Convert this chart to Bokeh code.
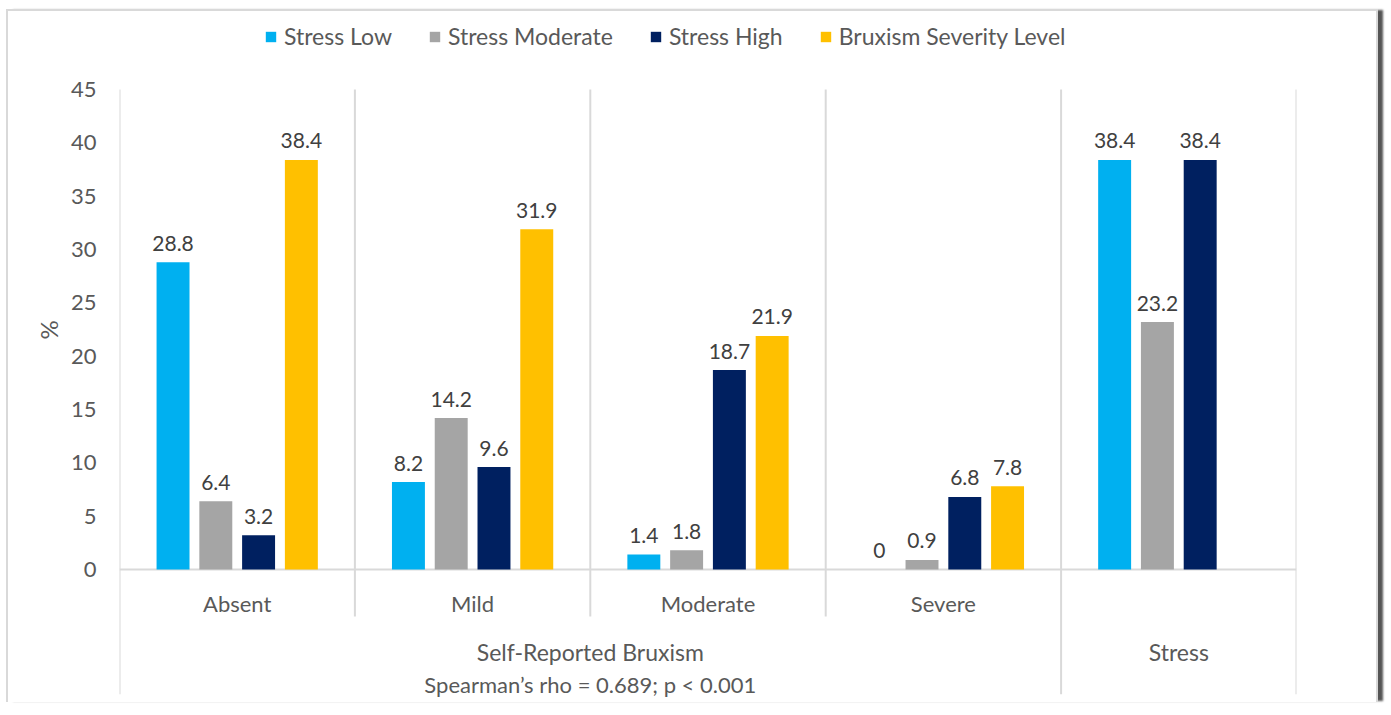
import math
from bokeh.plotting import figure
from bokeh.models import ColumnDataSource, Legend, LegendItem, Title, FixedTicker, Range1d
from bokeh.core.properties import value
from bokeh.embed import file_html
from bokeh.resources import INLINE

# ---- data ----
categories = ["Absent", "Mild", "Moderate", "Severe", ""]
category_group = [0, 0, 0, 0, 1]
groups = ["Self-Reported Bruxism", "Stress"]
group_notes = ["Spearman\u2019s rho = 0.689; p < 0.001", ""]
series = ["Stress Low", "Stress Moderate", "Stress High", "Bruxism Severity Level"]
stress_low = [28.8, 8.2, 1.4, 0, 38.4]
stress_moderate = [6.4, 14.2, 1.8, 0.9, 23.2]
stress_high = [3.2, 9.6, 18.7, 6.8, 38.4]
bruxism_severity = [38.4, 31.9, 21.9, 7.8, None]
colors = ["#00B0F0", "#A5A5A5", "#002060", "#FFC000"]
y_ticks = [0, 5, 10, 15, 20, 25, 30, 35, 40, 45]
y_label = "%"

FONT = "Lato"
TXT = "#595959"
LBL = "#404040"
GRID = "#D9D9D9"

p = figure(width=1372, height=693, x_range=Range1d(0, len(categories)),
           y_range=Range1d(-12.1875, 51.5625), x_axis_location=None,
           output_backend="svg", toolbar_location=None,
           min_border_left=111, min_border_right=84, min_border_top=8, min_border_bottom=5)
p.outline_line_color = None
p.xgrid.visible = False
p.ygrid.visible = False
p.styles = {"border-top": "2px solid #D9D9D9", "border-left": "2px solid #D9D9D9",
            "border-right": "2px solid #D9D9D9",
            "margin-left": "6px", "margin-top": "9px",
            "box-shadow": "6px 0 2px -1px #555555"}

ax = p.yaxis[0]
ax.ticker = FixedTicker(ticks=y_ticks)
ax.axis_line_color = None
ax.major_tick_line_color = None
ax.minor_tick_line_color = None
ax.major_label_text_font = FONT
ax.major_label_text_font_size = "22px"
ax.major_label_text_color = TXT
ax.major_label_standoff = 17

top = y_ticks[-1]
n = len(categories)
# separators
bx, bb = [], []
for i in range(n + 1):
    bx.append(i)
    if i == 0 or i == n or category_group[i - 1] != category_group[i]:
        bb.append(-11.7)
    else:
        bb.append(-4.4)
p.segment(x0=bx, y0=[top] * len(bx), x1=bx, y1=bb, line_color=GRID, line_width=2)
p.segment(x0=[0], y0=[0], x1=[n], y1=[0], line_color=GRID, line_width=2)

step = 0.1817
width = 0.14
renderers = []
all_vals = [stress_low, stress_moderate, stress_high, bruxism_severity]
for j, (name, vals, col) in enumerate(zip(series, all_vals, colors)):
    xs, ys, labs = [], [], []
    for i, v in enumerate(vals):
        if v is None:
            continue
        xs.append(i + 0.5 + (j - 1.5) * step)
        ys.append(v)
        labs.append(f"{v:g}")
    src = ColumnDataSource(dict(x=xs, top=ys, lab=labs))
    r = p.vbar(x="x", top="top", width=width, bottom=0, source=src,
               fill_color=col, line_color=None)
    renderers.append(r)
    p.text(x="x", y="top", text="lab", source=src, text_align="center",
           text_baseline="alphabetic", y_offset=-19, text_font=value(FONT),
           text_font_size="21px", text_color=LBL)

# category labels
p.text(x=[i + 0.5 for i in range(n)], y=[-3.2] * n, text=categories,
       text_align="center", text_baseline="middle", text_font=value(FONT),
       text_font_size="22px", text_color=TXT)
# group labels
gx = []
for g in range(len(groups)):
    idx = [i for i in range(n) if category_group[i] == g]
    gx.append((min(idx) + max(idx) + 1) / 2)
p.text(x=gx, y=[-7.7] * len(gx), text=groups, text_align="center",
       text_baseline="middle", text_font=value(FONT), text_font_size="23px", text_color=TXT)
p.text(x=gx, y=[-10.8] * len(gx), text=group_notes, text_align="center",
       text_baseline="middle", text_font=value(FONT), text_font_size="22px", text_color=TXT)

p.add_layout(Title(text=y_label, align="left", offset=360, text_font=FONT,
                   text_font_size="24px", text_font_style="normal", text_color=TXT), "left")

legend = Legend(items=[LegendItem(label=s, renderers=[r]) for s, r in zip(series, renderers)],
                orientation="horizontal", location=(145, 649), glyph_width=13, glyph_height=13,
                label_standoff=7, spacing=36, padding=0, margin=0,
                border_line_color=None, background_fill_alpha=0,
                label_text_font=FONT, label_text_font_size="23px", label_text_color=TXT)
p.add_layout(legend, "center")

open("out.html", "w").write(file_html(p, INLINE))
